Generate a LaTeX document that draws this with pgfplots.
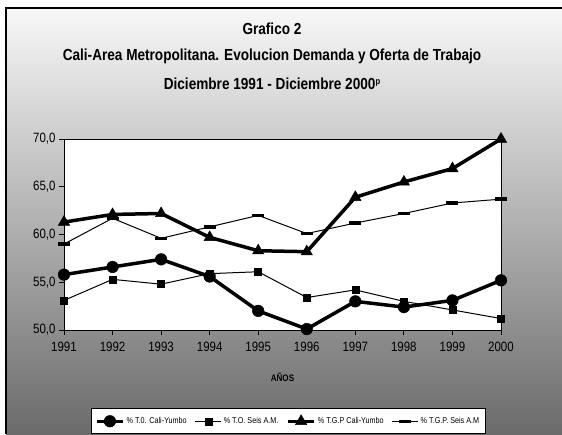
\documentclass[border=0pt]{standalone}
\usepackage{fontspec}
\setmainfont{Liberation Sans}[FakeStretch=0.85]
\usepackage{pgfplots}
\pgfplotsset{compat=1.18}
\definecolor{bgtop}{gray}{0.97}
\definecolor{bgbot}{gray}{0.42}

\pgfplotstableread{
year tocali toseis tgpcali tgpseis
1991 55.8 53.1 61.3 59.0
1992 56.6 55.3 62.1 61.7
1993 57.4 54.8 62.2 59.6
1994 55.6 55.9 59.7 60.8
1995 52.0 56.1 58.3 62.0
1996 50.1 53.4 58.2 60.1
1997 53.0 54.2 63.9 61.2
1998 52.4 53.0 65.5 62.2
1999 53.1 52.1 66.9 63.3
2000 55.2 51.2 70.0 63.7
}\datatable

\begin{document}
\begin{tikzpicture}[x=1pt,y=1pt]
\useasboundingbox (0,0) rectangle (562,434);
\shade[top color=bgtop, bottom color=bgbot] (6,0) rectangle (562,426);
\draw[line width=1.5pt] (6,0) -- (6,426) -- (562,426);
\node[font=\bfseries\fontsize{16}{17}\selectfont] at (272,405) {Grafico 2};
\node[font=\bfseries\fontsize{16}{17}\selectfont] at (272,378) {Cali-Area Metropolitana. Evolucion Demanda y Oferta de Trabajo};
\node[font=\bfseries\fontsize{16}{17}\selectfont] at (272,350) {Diciembre 1991 - Diciembre 2000\raisebox{5pt}{\fontsize{9}{9}\selectfont p}};
\begin{axis}[
  at={(64pt,104pt)}, anchor=south west,
  scale only axis, width=437pt, height=191pt,
  xmin=1991, xmax=2000, ymin=50, ymax=70,
  xtick={1991,...,2000}, ytick={50,55,...,70},
  axis background/.style={fill=white},
  axis line style={line width=0.8pt},
  tick style={line width=0.8pt, black},
  tick align=outside, major tick length=5pt,
  xtick pos=bottom, ytick pos=left,
  clip=false,
  /pgf/number format/assume math mode=true,
  ticklabel style={font=\fontsize{13.5}{14}\selectfont},
  yticklabel style={/pgf/number format/.cd, fixed, fixed zerofill, precision=1, use comma},
  xticklabel style={/pgf/number format/1000 sep={}, yshift=-4pt},
  xlabel={AÑOS},
  xlabel style={font=\bfseries\fontsize{9.5}{10}\selectfont, at={(axis description cs:0.5,-0.25)}, anchor=center},
  legend style={at={(0.513,-0.476)}, anchor=center, draw=black, line width=0.6pt, fill=white,
    font=\fontsize{8.5}{9}\selectfont, legend columns=4, inner xsep=4pt, inner ysep=6pt,
    /tikz/every even column/.append style={column sep=6pt}},
  legend image code/.code={\draw[mark repeat=2,mark phase=2] plot coordinates {(0pt,0pt) (13pt,0pt) (26pt,0pt)};},
]
\addplot[black, line width=3.5pt, mark=*, mark size=5.8pt, mark options={solid, line width=0.5pt}] table[x=year, y=tocali] {\datatable};
\addlegendentry{\% T.0. Cali-Yumbo}
\addplot[black, line width=1pt, mark=square*, mark size=3.5pt, mark options={solid, line width=0.5pt}] table[x=year, y=toseis] {\datatable};
\addlegendentry{\% T.O. Seis A.M.}
\addplot[black, line width=3.5pt, mark=triangle*, mark size=6.5pt, mark options={solid, line width=0.5pt}] table[x=year, y=tgpcali] {\datatable};
\addlegendentry{\% T.G.P Cali-Yumbo}
\addplot[black, line width=1pt, mark=-, mark size=6pt, mark options={solid, line width=3.5pt}] table[x=year, y=tgpseis] {\datatable};
\addlegendentry{\% T.G.P. Seis A.M}
\end{axis}
\end{tikzpicture}
\end{document}
